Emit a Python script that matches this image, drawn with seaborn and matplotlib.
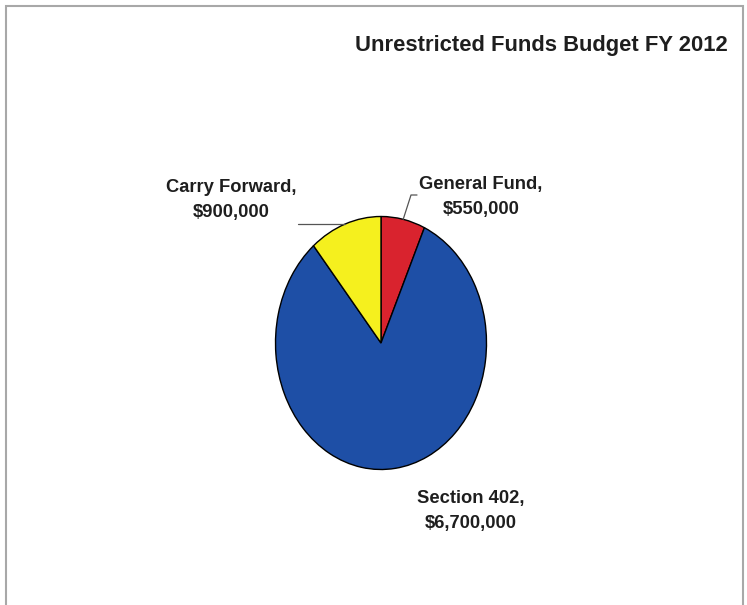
import matplotlib
matplotlib.use("Agg")
import matplotlib.pyplot as plt
import seaborn as sns
import numpy as np
from matplotlib.patches import Rectangle
from matplotlib.lines import Line2D

sns.set_theme(style="white")
plt.rcParams['font.family'] = ['Liberation Sans', 'DejaVu Sans']

# data
categories = ["General Fund", "Section 402", "Carry Forward"]
values = [550000, 6700000, 900000]
value_labels = ["$550,000", "$6,700,000", "$900,000"]
colors = ["#D9232E", "#1E4FA6", "#F5F01E"]
title = "Unrestricted Funds Budget FY 2012"

W, H = 747, 605
fig = plt.figure(figsize=(W / 100, H / 100), dpi=100)
fig.patch.set_facecolor("white")

def fx(px):
    return px / W

def fy(py):
    return 1 - py / H

# pie bounding box in pixels
cx, cy, rx, ry = 381, 343, 105.5, 126.5
ax = fig.add_axes([fx(cx - rx), fy(cy + ry), 2 * rx / W, 2 * ry / H])
wedges, _ = ax.pie(values, colors=colors, startangle=90, counterclock=False,
                   wedgeprops=dict(edgecolor="black", linewidth=1.0))
ax.set_aspect("auto")
ax.set_xlim(-1, 1)
ax.set_ylim(-1, 1)
ax.axis("off")

# figure border
fig.add_artist(Rectangle((fx(6), fy(615)), fx(743) - fx(6), fy(6) - fy(615),
                         transform=fig.transFigure, fill=False,
                         edgecolor="#A8A8A8", linewidth=1.5))

fig.text(fx(541), fy(45), title, ha="center", va="center",
         fontsize=15.8, fontweight="bold", color="#1E1E1E")

lab_kw = dict(ha="center", va="center", fontsize=13.2, fontweight="bold",
              color="#1E1E1E", linespacing=1.55)

# labels
fig.text(fx(481), fy(197), f"{categories[0]},\n{value_labels[0]}", **lab_kw)
fig.text(fx(231), fy(200), f"{categories[2]},\n{value_labels[2]}", **lab_kw)
fig.text(fx(471), fy(511), f"{categories[1]},\n{value_labels[1]}", **lab_kw)

# leader lines
def edge_point(w):
    ang = np.deg2rad((w.theta1 + w.theta2) / 2)
    return cx + rx * np.cos(ang), cy - ry * np.sin(ang)

gx, gy = edge_point(wedges[0])
fig.add_artist(Line2D([fx(gx), fx(411), fx(417)], [fy(gy), fy(195), fy(195)],
                      transform=fig.transFigure, color="#555555", linewidth=0.9))
kx, ky = edge_point(wedges[2])
fig.add_artist(Line2D([fx(kx), fx(298)], [fy(ky), fy(ky)],
                      transform=fig.transFigure, color="#555555", linewidth=0.9))

fig.savefig("out.png", dpi=100, facecolor="white")
